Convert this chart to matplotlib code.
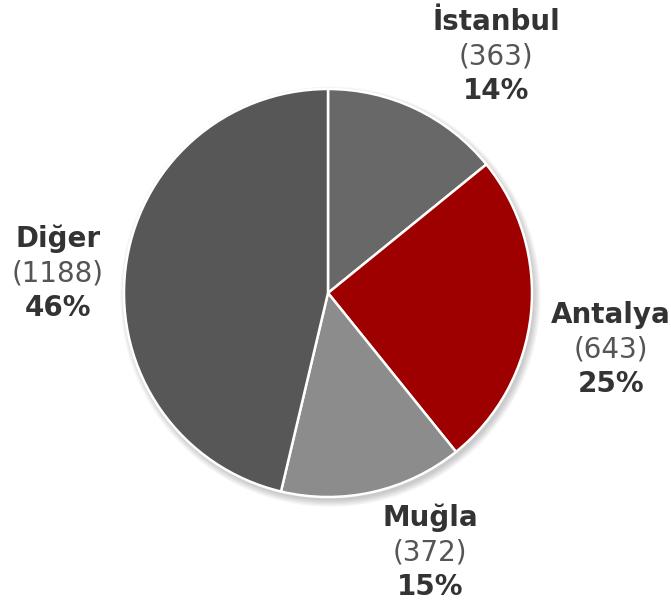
import matplotlib.pyplot as plt
from matplotlib.patches import Circle

# Data
cities = ['İstanbul', 'Antalya', 'Muğla', 'Diğer']
counts = [363, 643, 372, 1188]
percents = ['14%', '25%', '15%', '46%']
colors = ['#686868', '#9e0000', '#8c8c8c', '#575757']

# label block centres, in units of pie radius
label_pos = [(0.824, 1.157), (1.387, -0.279), (0.50, -1.27), (-1.324, 0.098)]

W, H = 671, 605
cx, cy, R = 328, 312, 204  # pie centre (from bottom) and radius in px

fig = plt.figure(figsize=(W / 100, H / 100), dpi=100)
ax = fig.add_axes([0, 0, 1, 1])

# soft shadow
for i in range(6):
    ax.add_patch(Circle((0.012, -0.018), 1.0 + 0.006 * i, color='black',
                        alpha=0.035, lw=0, zorder=0))

ax.pie(counts, colors=colors, startangle=90, counterclock=False,
       wedgeprops=dict(edgecolor='white', linewidth=1.8))

ax.set_xlim(-cx / R, (W - cx) / R)
ax.set_ylim(-cy / R, (H - cy) / R)
ax.set_aspect('auto')
ax.axis('off')

step = 34.5 / R
for name, n, pct, (x, y) in zip(cities, counts, percents, label_pos):
    ax.text(x, y + step, name, ha='center', va='center', fontsize=20,
            fontweight='bold', color='#333333')
    ax.text(x, y, f'({n})', ha='center', va='center', fontsize=20,
            color='#555555')
    ax.text(x, y - step, pct, ha='center', va='center', fontsize=20,
            fontweight='bold', color='#333333')

fig.savefig('out.png', dpi=100)
